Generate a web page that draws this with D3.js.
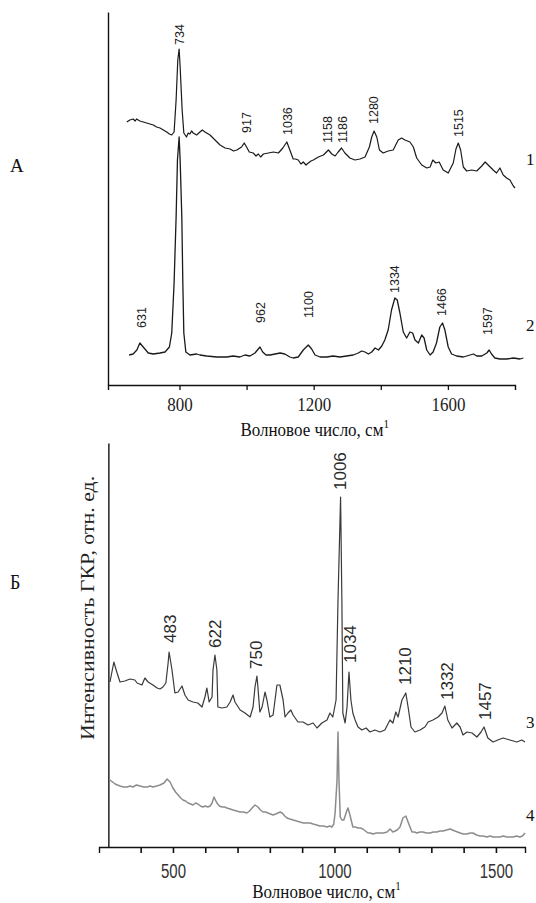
<!DOCTYPE html>
<html><head><meta charset="utf-8">
<script src="https://cdn.jsdelivr.net/npm/d3@7"></script>
<style>
body{margin:0;background:#fff;}
svg{display:block;}
</style></head>
<body>
<svg id="chart" width="536" height="903"></svg>
<script>
// ---------- DATA ----------
// Panel A, spectrum 1 [wavenumber, intensity a.u.]
const spectrum1 = [[643,263],[652,265],[662,266],[668,264],[672,266],[682,264],[692,263],[702,262],[712,261],[722,260],[732,258],[742,257],[752,255],[762,253],[770,251],[777,250],[784,253],[790,285],[795,325],[799,336],[802,318],[808,275],[813,252],[821,248],[826,252],[831,251],[836,254],[841,252],[851,250],[861,253],[868,255],[876,253],[891,250],[906,245],[921,240],[936,237],[951,236],[961,234],[971,235],[985,238],[993,242],[1000,238],[1008,233],[1020,232],[1028,229],[1035,231],[1042,228],[1050,231],[1065,232],[1080,233],[1095,232],[1108,237],[1120,243],[1129,235],[1139,226],[1146,226],[1154,225],[1162,221],[1169,223],[1177,220],[1184,222],[1192,224],[1199,225],[1214,228],[1229,230],[1244,235],[1254,231],[1264,229],[1273,233],[1283,237],[1293,232],[1308,227],[1323,225],[1338,226],[1353,228],[1366,238],[1373,248],[1380,254],[1388,248],[1396,235],[1407,232],[1422,234],[1437,235],[1452,245],[1462,247],[1472,245],[1487,243],[1497,238],[1507,227],[1522,220],[1537,217],[1547,218],[1555,225],[1564,222],[1574,223],[1586,215],[1601,212],[1616,222],[1624,236],[1631,242],[1638,235],[1646,218],[1656,214],[1671,215],[1686,214],[1701,219],[1711,223],[1720,220],[1735,215],[1745,212],[1755,217],[1765,210],[1775,207],[1785,205],[1795,199],[1800,197]];
// Panel A, spectrum 2
const spectrum2 = [[650,30],[662,31],[673,35],[682,42],[692,38],[707,32],[722,31],[742,32],[757,33],[770,38],[777,52],[784,102],[790,168],[794,225],[799,248],[802,225],[807,168],[810,102],[813,52],[819,33],[831,30],[851,31],[861,30],[881,29],[911,28],[941,28],[960,29],[980,28],[995,30],[1010,29],[1025,32],[1035,36],[1040,38],[1048,33],[1058,30],[1070,30],[1085,31],[1100,32],[1114,31],[1129,28],[1139,27],[1154,28],[1169,35],[1184,40],[1194,36],[1204,30],[1219,28],[1239,28],[1258,29],[1278,28],[1298,29],[1318,30],[1333,32],[1343,34],[1353,33],[1363,31],[1373,33],[1383,37],[1393,35],[1403,39],[1412,45],[1422,55],[1432,75],[1442,87],[1449,85],[1457,72],[1467,53],[1477,47],[1487,53],[1495,52],[1502,45],[1512,42],[1522,50],[1529,47],[1537,35],[1547,30],[1556,33],[1566,42],[1576,58],[1584,62],[1591,55],[1601,38],[1611,31],[1626,29],[1646,28],[1666,30],[1676,31],[1686,29],[1701,29],[1716,32],[1723,35],[1730,31],[1740,27],[1755,26],[1775,26],[1795,27],[1815,26],[1825,27]];
// Panel Б, spectrum 3
const spectrum3 = [[305,165],[317,185],[327,174],[336,165],[351,166],[367,168],[382,167],[389,164],[404,162],[413,169],[423,165],[438,162],[451,159],[460,158],[469,160],[478,164],[485,184],[488,195],[497,177],[506,154],[516,155],[528,161],[537,152],[547,147],[562,145],[577,144],[590,140],[599,150],[605,159],[612,145],[621,150],[624,177],[630,192],[636,177],[639,140],[652,139],[667,140],[677,145],[686,152],[692,145],[708,137],[723,134],[739,130],[748,140],[754,160],[760,171],[763,160],[769,135],[776,140],[785,155],[791,147],[800,130],[810,132],[822,162],[831,162],[841,147],[847,130],[856,134],[865,137],[872,132],[887,125],[903,125],[918,122],[934,124],[946,119],[961,124],[977,127],[986,134],[995,130],[1005,147],[1011,247],[1019,350],[1023,247],[1026,134],[1033,124],[1039,140],[1045,175],[1051,147],[1057,134],[1064,127],[1073,120],[1085,117],[1098,119],[1110,115],[1125,117],[1141,115],[1156,117],[1172,127],[1181,124],[1190,135],[1197,130],[1209,147],[1221,154],[1228,140],[1237,120],[1249,115],[1265,117],[1280,120],[1290,125],[1305,127],[1321,130],[1333,134],[1342,141],[1351,127],[1364,119],[1379,124],[1389,120],[1398,112],[1410,115],[1426,114],[1441,110],[1454,115],[1463,120],[1475,109],[1491,105],[1506,107],[1522,109],[1543,107],[1565,105],[1580,107],[1590,105]];
// Panel Б, spectrum 4
const spectrum4 = [[305,67],[313,65],[321,63],[328,62],[336,61],[347,60],[358,60],[367,61],[376,60],[387,62],[398,61],[409,60],[420,60],[429,61],[438,60],[449,61],[460,62],[472,64],[482,68],[491,65],[500,59],[508,55],[516,52],[524,49],[531,47],[539,46],[547,44],[555,43],[562,42],[570,44],[577,43],[585,41],[593,40],[600,41],[608,40],[615,41],[621,44],[627,50],[636,44],[644,41],[652,40],[660,40],[667,39],[677,38],[686,37],[697,36],[708,35],[718,35],[729,34],[737,36],[745,39],[754,42],[763,40],[771,37],[779,35],[787,35],[794,34],[802,33],[810,32],[818,33],[825,34],[832,35],[838,34],[846,31],[853,29],[862,28],[872,27],[883,26],[893,25],[904,24],[915,24],[925,24],[934,23],[945,22],[955,21],[966,21],[977,20],[985,21],[992,20],[998,23],[1002,34],[1008,67],[1011,115],[1014,67],[1018,30],[1023,27],[1029,27],[1034,32],[1039,37],[1042,39],[1048,32],[1057,20],[1065,20],[1073,19],[1080,19],[1088,18],[1096,16],[1104,14],[1112,14],[1119,13],[1130,14],[1141,14],[1152,14],[1163,15],[1172,18],[1181,15],[1188,16],[1194,17],[1203,20],[1212,29],[1221,31],[1228,25],[1240,15],[1248,15],[1255,14],[1265,15],[1274,15],[1285,14],[1296,14],[1306,15],[1317,15],[1327,16],[1336,16],[1347,17],[1358,18],[1373,16],[1389,14],[1400,13],[1410,13],[1420,14],[1429,14],[1440,12],[1451,11],[1461,11],[1472,10],[1482,11],[1491,10],[1502,10],[1512,10],[1523,11],[1534,10],[1543,10],[1553,10],[1564,11],[1574,10],[1582,11],[1590,14]];

// Peak annotations: [label, wavenumber, intensity at label foot]
const peaks1 = [["734",799,340],["917",1001,252],["1036",1123,250],["1158",1243,242],["1186",1287,242],["1280",1380,261],["1515",1633,248]];
const peaks2 = [["631",688,57],["962",1043,62],["1100",1186,67],["1334",1442,92],["1466",1582,69],["1597",1719,50]];
const peaks3 = [["483",491,204],["622",630,199],["750",757,178],["1006",1017,357],["1034",1048,184],["1210",1218,162],["1332",1348,147],["1457",1466,127]];

// Axis ticks
const topTicks = [800,1000,1200,1400,1600];
const topTickLabels = [800,1200,1600];
const botTicks = [400,500,600,700,800,900,1000,1100,1200,1300,1400,1500];
const botTickLabels = [500,1000,1500];

// Text
const xTitle = "Волновое число, см";
const yTitle = "Интенсивность ГКР, отн. ед.";
const panelLabels = ["А","Б"];
const seriesLabels = ["1","2","3","4"];

// ---------- DRAW ----------
const svg = d3.select("#chart");
const serif = "'Liberation Serif','Times New Roman',serif";
const sans = "'Liberation Sans',Arial,sans-serif";
const narrow = "'Liberation Sans Narrow','Liberation Sans',Arial,sans-serif";

// scales
const topX = d3.scaleLinear().domain([587,1800]).range([108,515]);
const topY = d3.scaleLinear().domain([0,373]).range([385,12]);
const botX = d3.scaleLinear().domain([271,1590]).range([99,525]);
const botY = d3.scaleLinear().domain([0,404]).range([847,443]);

// ---- top panel axes
const gTopX = svg.append("g").attr("transform",`translate(0,${topY(0)})`)
  .call(d3.axisBottom(topX).tickValues(topTicks).tickSizeOuter(0).tickSize(5)
    .tickFormat(d => topTickLabels.includes(d) ? d : ""));
gTopX.selectAll("text").attr("font-family",serif).attr("font-size",17).attr("fill","#222")
  .attr("y",0).attr("dy",0).attr("transform","translate(0,26) scale(1,1.12)");
const gTopY = svg.append("g").attr("transform",`translate(${topX(587)},0)`)
  .call(d3.axisLeft(topY).tickValues([]).tickSizeOuter(0));
[gTopX,gTopY].forEach(g=>{g.select(".domain").attr("stroke","#111").attr("stroke-width",1.4);
  g.selectAll(".tick line").attr("stroke","#111").attr("stroke-width",1.3);});

// ---- bottom panel axes
const gBotX = svg.append("g").attr("transform",`translate(0,${botY(0)})`)
  .call(d3.axisBottom(botX).tickValues(botTicks).tickSizeOuter(0).tickSize(6)
    .tickFormat(d => botTickLabels.includes(d) ? d : ""));
gBotX.selectAll("text").attr("font-family",sans).attr("font-size",15).attr("fill","#333")
  .attr("y",0).attr("dy",0).attr("transform","translate(0,31) scale(1,1.35)");
const gBotY = svg.append("g").attr("transform",`translate(${botX(300)},0)`)
  .call(d3.axisLeft(botY).tickValues([]).tickSizeOuter(0));
[gBotX,gBotY].forEach(g=>{g.select(".domain").attr("stroke","#111").attr("stroke-width",1.4);
  g.selectAll(".tick line").attr("stroke","#111").attr("stroke-width",1.6);});

// ---- lines
const lineTop = d3.line().x(d=>topX(d[0])).y(d=>topY(d[1]));
const lineBot = d3.line().x(d=>botX(d[0])).y(d=>botY(d[1]));
svg.append("path").datum(spectrum1).attr("d",lineTop).attr("fill","none").attr("stroke","#1a1a1a").attr("stroke-width",1.2).attr("stroke-linejoin","round");
svg.append("path").datum(spectrum2).attr("d",lineTop).attr("fill","none").attr("stroke","#1a1a1a").attr("stroke-width",1.3).attr("stroke-linejoin","round");
svg.append("path").datum(spectrum3).attr("d",lineBot).attr("fill","none").attr("stroke","#3a3a3a").attr("stroke-width",1.2).attr("stroke-linejoin","round");
svg.append("path").datum(spectrum4).attr("d",lineBot).attr("fill","none").attr("stroke","#8c8c8c").attr("stroke-width",1.5).attr("stroke-linejoin","round");

// ---- peak labels
function peakLabels(data, xs, ys, size, family, color){
  svg.append("g").selectAll("text").data(data).join("text")
    .attr("transform",d=>`translate(${xs(d[1])},${ys(d[2])}) rotate(-90)`)
    .attr("dy","0.35em").attr("text-anchor","start")
    .attr("font-family",family).attr("font-size",size).attr("fill",color)
    .text(d=>d[0]);
}
peakLabels(peaks1, topX, topY, 12.5, narrow, "#222");
peakLabels(peaks2, topX, topY, 12.5, narrow, "#222");
peakLabels(peaks3, botX, botY, 17, sans, "#2a2a2a");

// ---- axis titles
function xTitleText(x, y){
  const t = svg.append("text").attr("transform",`translate(${x},${y}) scale(1,1.15)`).attr("text-anchor","middle")
    .attr("font-family",serif).attr("font-size",17).attr("fill","#111");
  t.append("tspan").text(xTitle);
  t.append("tspan").attr("font-size",11).attr("dy",-7).text("1");
}
xTitleText(topX(1200)+1, 436);
xTitleText(botX(1000)-8, 898);

svg.append("text").attr("transform",`translate(87,608) scale(1,1.15) rotate(-90)`)
  .attr("text-anchor","middle").attr("dy","0.35em")
  .attr("font-family",serif).attr("font-size",19).attr("fill","#222").text(yTitle);

// ---- panel labels
svg.append("text").attr("x",10).attr("y",172).attr("font-family",serif).attr("font-size",19).attr("fill","#111").text(panelLabels[0]);
svg.append("text").attr("transform","translate(10,589) scale(1,1.15)").attr("font-family",serif).attr("font-size",18).attr("fill","#111").text(panelLabels[1]);

// ---- series labels
const serPos = [[526,165],[526,331],[526,728],[526,821]];
seriesLabels.forEach((s,i)=>{
  svg.append("text").attr("x",serPos[i][0]).attr("y",serPos[i][1])
    .attr("font-family",serif).attr("font-size",17).attr("fill","#111").text(s);
});
</script>
</body></html>
